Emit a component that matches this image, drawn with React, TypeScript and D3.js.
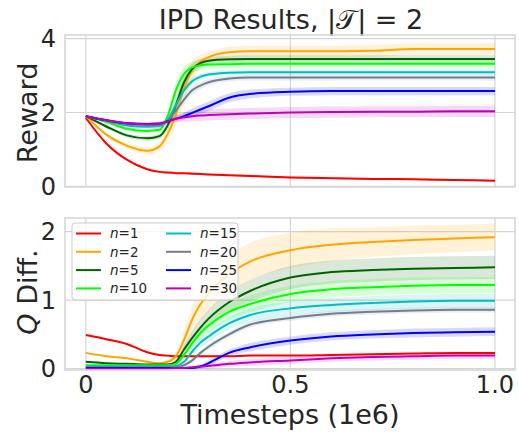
import React from "react";
import * as d3 from "d3";

// timesteps (1e6) at which the curves were read
const steps = [0, 0.05, 0.1, 0.15, 0.18, 0.2, 0.22, 0.24, 0.26, 0.28, 0.3, 0.35, 0.4, 0.5, 0.6, 0.7, 0.8, 0.9, 1.0];

const labels = ["1", "2", "5", "10", "15", "20", "25", "30"];
const colors = ["#ff0000", "#ffa500", "#006400", "#00ff00", "#00bfbf", "#708090", "#0000ff", "#bf00bf"];

// top panel: reward
const reward1 = [1.85, 1.16, 0.72, 0.46, 0.39, 0.37, 0.355, 0.35, 0.34, 0.33, 0.32, 0.3, 0.28, 0.24, 0.22, 0.2, 0.19, 0.17, 0.15];
const reward2 = [1.9, 1.4, 1.1, 0.96, 1.08, 1.42, 1.95, 2.65, 3.15, 3.38, 3.5, 3.63, 3.66, 3.66, 3.66, 3.67, 3.72, 3.72, 3.72];
const reward5 = [1.9, 1.62, 1.38, 1.3, 1.36, 1.65, 2.2, 2.82, 3.18, 3.34, 3.4, 3.44, 3.45, 3.45, 3.45, 3.45, 3.45, 3.45, 3.45];
const reward10 = [1.9, 1.75, 1.56, 1.5, 1.53, 1.9, 2.6, 3.05, 3.22, 3.28, 3.3, 3.31, 3.32, 3.32, 3.32, 3.32, 3.32, 3.32, 3.32];
const reward15 = [1.9, 1.78, 1.65, 1.61, 1.63, 1.8, 2.2, 2.6, 2.85, 2.97, 3.03, 3.08, 3.09, 3.09, 3.09, 3.09, 3.09, 3.09, 3.09];
const reward20 = [1.9, 1.78, 1.69, 1.66, 1.67, 1.78, 2.05, 2.35, 2.6, 2.73, 2.82, 2.92, 2.95, 2.95, 2.95, 2.95, 2.95, 2.95, 2.95];
const reward25 = [1.9, 1.79, 1.71, 1.69, 1.7, 1.76, 1.83, 1.9, 1.99, 2.08, 2.17, 2.4, 2.5, 2.56, 2.58, 2.58, 2.58, 2.58, 2.58];
const reward30 = [1.9, 1.79, 1.71, 1.68, 1.69, 1.76, 1.83, 1.87, 1.9, 1.92, 1.93, 1.95, 1.97, 2.0, 2.01, 2.02, 2.02, 2.03, 2.03];

// half-width of the shaded band, reward
const rewardSd1 = [0.02, 0.03, 0.03, 0.03, 0.03, 0.03, 0.03, 0.03, 0.03, 0.03, 0.03, 0.03, 0.03, 0.03, 0.03, 0.03, 0.03, 0.03, 0.03];
const rewardSd2 = [0.02, 0.06, 0.08, 0.1, 0.12, 0.2, 0.3, 0.32, 0.26, 0.18, 0.15, 0.15, 0.15, 0.15, 0.15, 0.15, 0.16, 0.16, 0.16];
const rewardSd5 = [0.02, 0.05, 0.06, 0.07, 0.08, 0.12, 0.2, 0.2, 0.15, 0.12, 0.1, 0.1, 0.1, 0.1, 0.1, 0.1, 0.1, 0.1, 0.1];
const rewardSd10 = [0.02, 0.04, 0.05, 0.06, 0.07, 0.1, 0.2, 0.2, 0.15, 0.13, 0.12, 0.12, 0.12, 0.12, 0.12, 0.12, 0.12, 0.12, 0.12];
const rewardSd15 = [0.02, 0.03, 0.04, 0.04, 0.05, 0.07, 0.12, 0.14, 0.1, 0.08, 0.07, 0.07, 0.07, 0.07, 0.07, 0.07, 0.07, 0.07, 0.07];
const rewardSd20 = [0.02, 0.03, 0.04, 0.04, 0.05, 0.06, 0.1, 0.12, 0.12, 0.1, 0.09, 0.08, 0.08, 0.08, 0.08, 0.08, 0.08, 0.08, 0.08];
const rewardSd25 = [0.02, 0.03, 0.04, 0.04, 0.05, 0.06, 0.08, 0.1, 0.12, 0.13, 0.13, 0.12, 0.12, 0.11, 0.11, 0.11, 0.11, 0.11, 0.11];
const rewardSd30 = [0.02, 0.03, 0.04, 0.05, 0.06, 0.08, 0.1, 0.12, 0.14, 0.15, 0.15, 0.15, 0.15, 0.15, 0.15, 0.15, 0.15, 0.15, 0.15];

// bottom panel: Q difference
const qdiff1 = [0.49, 0.43, 0.36, 0.24, 0.2, 0.19, 0.18, 0.18, 0.18, 0.18, 0.18, 0.18, 0.19, 0.19, 0.2, 0.21, 0.22, 0.23, 0.23];
const qdiff2 = [0.23, 0.18, 0.15, 0.1, 0.08, 0.1, 0.18, 0.42, 0.72, 0.94, 1.1, 1.38, 1.56, 1.73, 1.81, 1.85, 1.88, 1.9, 1.92];
const qdiff5 = [0.1, 0.08, 0.07, 0.06, 0.06, 0.06, 0.1, 0.28, 0.45, 0.6, 0.73, 0.97, 1.13, 1.33, 1.41, 1.44, 1.46, 1.47, 1.48];
const qdiff10 = [0.05, 0.05, 0.05, 0.05, 0.05, 0.05, 0.07, 0.2, 0.37, 0.52, 0.63, 0.83, 0.94, 1.09, 1.16, 1.19, 1.21, 1.22, 1.22];
const qdiff15 = [0.03, 0.03, 0.03, 0.03, 0.03, 0.03, 0.04, 0.1, 0.25, 0.38, 0.47, 0.66, 0.78, 0.88, 0.93, 0.96, 0.98, 0.99, 0.99];
const qdiff20 = [0.02, 0.02, 0.02, 0.02, 0.02, 0.02, 0.02, 0.05, 0.12, 0.23, 0.32, 0.5, 0.64, 0.74, 0.8, 0.83, 0.85, 0.86, 0.86];
const qdiff25 = [0.01, 0.01, 0.01, 0.01, 0.01, 0.01, 0.01, 0.01, 0.01, 0.03, 0.08, 0.23, 0.31, 0.41, 0.47, 0.5, 0.52, 0.53, 0.54];
const qdiff30 = [0.0, 0.0, 0.0, 0.0, 0.0, 0.0, 0.01, 0.01, 0.02, 0.03, 0.04, 0.07, 0.09, 0.12, 0.15, 0.17, 0.18, 0.19, 0.19];

const qdiffSd1 = [0.01, 0.01, 0.01, 0.01, 0.01, 0.01, 0.01, 0.01, 0.01, 0.01, 0.01, 0.01, 0.01, 0.01, 0.01, 0.01, 0.01, 0.01, 0.01];
const qdiffSd2 = [0.01, 0.01, 0.01, 0.01, 0.01, 0.02, 0.06, 0.14, 0.2, 0.24, 0.26, 0.27, 0.27, 0.26, 0.24, 0.22, 0.21, 0.2, 0.2];
const qdiffSd5 = [0.01, 0.01, 0.01, 0.01, 0.01, 0.01, 0.03, 0.07, 0.1, 0.12, 0.13, 0.15, 0.16, 0.17, 0.17, 0.17, 0.17, 0.17, 0.17];
const qdiffSd10 = [0.01, 0.01, 0.01, 0.01, 0.01, 0.01, 0.02, 0.05, 0.07, 0.09, 0.1, 0.11, 0.12, 0.12, 0.12, 0.12, 0.12, 0.12, 0.12];
const qdiffSd15 = [0.01, 0.01, 0.01, 0.01, 0.01, 0.01, 0.01, 0.03, 0.05, 0.07, 0.08, 0.09, 0.1, 0.1, 0.1, 0.1, 0.1, 0.1, 0.1];
const qdiffSd20 = [0.01, 0.01, 0.01, 0.01, 0.01, 0.01, 0.01, 0.02, 0.03, 0.03, 0.04, 0.04, 0.04, 0.04, 0.04, 0.04, 0.04, 0.04, 0.04];
const qdiffSd25 = [0.01, 0.01, 0.01, 0.01, 0.01, 0.01, 0.01, 0.01, 0.02, 0.03, 0.04, 0.05, 0.06, 0.06, 0.06, 0.06, 0.065, 0.065, 0.065];
const qdiffSd30 = [0.01, 0.01, 0.01, 0.01, 0.01, 0.01, 0.01, 0.02, 0.02, 0.03, 0.04, 0.04, 0.05, 0.05, 0.05, 0.05, 0.05, 0.05, 0.05];

const rewardSeries = [reward1, reward2, reward5, reward10, reward15, reward20, reward25, reward30];
const rewardSpread = [rewardSd1, rewardSd2, rewardSd5, rewardSd10, rewardSd15, rewardSd20, rewardSd25, rewardSd30];
const qdiffSeries = [qdiff1, qdiff2, qdiff5, qdiff10, qdiff15, qdiff20, qdiff25, qdiff30];
const qdiffSpread = [qdiffSd1, qdiffSd2, qdiffSd5, qdiffSd10, qdiffSd15, qdiffSd20, qdiffSd25, qdiffSd30];

const xTicks = [0, 0.5, 1.0];
const xTickLabels = ["0", "0.5", "1.0"];
const rewardTicks = [0, 2, 4];
const qdiffTicks = [0, 1, 2];

const width = 519;
const height = 432;
const left = 65;
const right = 515;
const font = "DejaVu Sans, sans-serif";
const textColor = "#262626";
const gridColor = "#d5d5d5";

const x = d3.scaleLinear().domain([-0.051, 1.049]).range([left, right]);

function Panel({ y, top, bottom, series, spread, ticks, showX }) {
  const line = (vals) =>
    d3
      .line()
      .x((_, i) => x(steps[i]))
      .y((d) => y(d))
      .curve(d3.curveMonotoneX)(vals);
  const band = (vals, sd) =>
    d3
      .area()
      .x((_, i) => x(steps[i]))
      .y0((d, i) => y(d - sd[i]))
      .y1((d, i) => y(d + sd[i]))
      .curve(d3.curveMonotoneX)(vals);
  const clipId = `clip-${top}`;
  return (
    <g>
      <defs>
        <clipPath id={clipId}>
          <rect x={left} y={top} width={right - left} height={bottom - top} />
        </clipPath>
      </defs>
      {xTicks.map((t) => (
        <line key={"gx" + t} x1={x(t)} x2={x(t)} y1={top} y2={bottom} stroke={gridColor} strokeWidth={1.2} />
      ))}
      {ticks.map((t) => (
        <line key={"gy" + t} x1={left} x2={right} y1={y(t)} y2={y(t)} stroke={gridColor} strokeWidth={1.2} />
      ))}
      <g clipPath={`url(#${clipId})`}>
        {series.map((s, i) => (
          <path key={"b" + i} d={band(s, spread[i])} fill={colors[i]} fillOpacity={0.15} stroke="none" />
        ))}
        {series.map((s, i) => (
          <path key={"l" + i} d={line(s)} fill="none" stroke={colors[i]} strokeWidth={2} />
        ))}
      </g>
      <rect x={left} y={top} width={right - left} height={bottom - top} fill="none" stroke={gridColor} strokeWidth={1.5} />
      {ticks.map((t) => (
        <text key={"ty" + t} x={left - 9} y={y(t)} dy="0.36em" textAnchor="end" fontSize={24} fill={textColor}>
          {t}
        </text>
      ))}
      {showX &&
        xTicks.map((t, i) => (
          <text key={"tx" + t} x={x(t)} y={bottom + 23} textAnchor="middle" fontSize={24} fill={textColor}>
            {xTickLabels[i]}
          </text>
        ))}
    </g>
  );
}

function Legend() {
  const lx = 72;
  const ly = 223;
  const rowH = 18.3;
  return (
    <g>
      <rect x={lx} y={ly} width={166} height={77} rx={3} fill="#ffffff" fillOpacity={0.8} stroke="#cccccc" strokeWidth={1} />
      {labels.map((lab, i) => {
        const col = Math.floor(i / 4);
        const row = i % 4;
        const cx = lx + 4 + col * 90;
        const cy = ly + 10.5 + row * rowH;
        return (
          <g key={lab}>
            <line x1={cx} x2={cx + 25} y1={cy} y2={cy} stroke={colors[i]} strokeWidth={2} />
            <text x={cx + 34} y={cy} dy="0.36em" fontSize={13.5} fill={textColor}>
              <tspan fontStyle="italic">n</tspan>={lab}
            </text>
          </g>
        );
      })}
    </g>
  );
}

export default function App() {
  const yReward = d3.scaleLinear().domain([-0.02, 4.1]).range([187, 35]);
  const yQ = d3.scaleLinear().domain([-0.02, 2.2]).range([370, 218]);
  return (
    <div>
      <style>{"body{margin:0}"}</style>
      <svg width={width} height={height} style={{ display: "block", fontFamily: font }}>
        <rect width={width} height={height} fill="#ffffff" />
        <text x={291} y={29} textAnchor="middle" fontSize={27} fill={textColor}>
          IPD Results, |𝒯| = 2
        </text>
        <Panel y={yReward} top={35} bottom={187} series={rewardSeries} spread={rewardSpread} ticks={rewardTicks} showX={false} />
        <Panel y={yQ} top={218} bottom={370} series={qdiffSeries} spread={qdiffSpread} ticks={qdiffTicks} showX={true} />
        <Legend />
        <text transform={`translate(37,113) rotate(-90)`} textAnchor="middle" fontSize={27} fill={textColor}>
          Reward
        </text>
        <text transform={`translate(37,292) rotate(-90)`} textAnchor="middle" fontSize={27} fill={textColor}>
          <tspan fontStyle="italic">Q</tspan> Diff.
        </text>
        <text x={290} y={424} textAnchor="middle" fontSize={27} fill={textColor}>
          Timesteps (1e6)
        </text>
      </svg>
    </div>
  );
}
